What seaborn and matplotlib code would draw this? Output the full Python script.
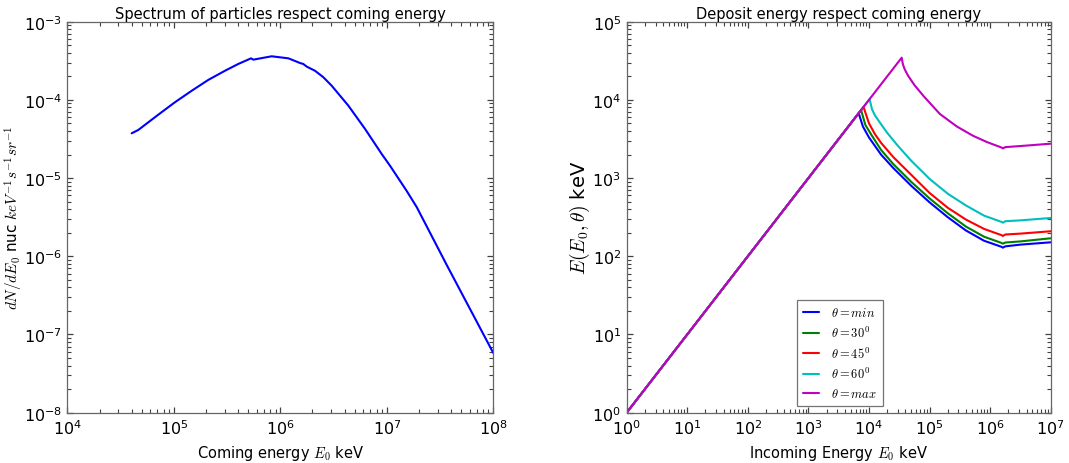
import matplotlib
matplotlib.use("Agg")
import matplotlib.pyplot as plt
import seaborn as sns
import pandas as pd
from matplotlib.ticker import LogLocator, FixedLocator, NullFormatter

# ---------------- data ----------------
# Left panel: spectrum
spec_E0 = [4.01e4, 4.62e4, 7.13e4, 1.02e5, 1.47e5, 2.10e5, 3.02e5, 4.02e5, 5.30e5, 5.56e5,
           8.28e5, 1.19e6, 1.53e6, 1.64e6, 1.77e6, 2.11e6, 2.53e6, 3.03e6, 4.35e6, 6.24e6,
           8.95e6, 1.07e7, 1.53e7, 1.91e7, 3.65e7, 1.0e8]
spec_flux = [3.74e-5, 4.12e-5, 6.47e-5, 9.31e-5, 1.31e-4, 1.80e-4, 2.36e-4, 2.88e-4, 3.40e-4, 3.27e-4,
             3.61e-4, 3.40e-4, 2.96e-4, 2.88e-4, 2.66e-4, 2.36e-4, 1.95e-4, 1.52e-4, 8.43e-5, 4.25e-5,
             2.03e-5, 1.44e-5, 6.90e-6, 4.24e-6, 7.74e-7, 5.79e-8]

# Right panel: deposited energy for several angles
min_E0 = [1, 6.76e3, 7.94e3, 1.0e4, 1.585e4, 2.512e4, 5.012e4, 1.0e5, 2.0e5, 3.98e5,
          7.94e5, 1.55e6, 1.62e6, 1.78e6, 3.16e6, 1.0e7]
min_E = [1, 6.76e3, 4.57e3, 3.31e3, 1.995e3, 1.349e3, 794, 490, 316, 214,
         158, 132, 129, 134, 141, 151]

d30_E0 = [1, 7.41e3, 8.71e3, 1.122e4, 1.585e4, 2.512e4, 5.012e4, 1.0e5, 2.0e5, 3.98e5,
          7.94e5, 1.55e6, 1.62e6, 1.78e6, 3.16e6, 1.0e7]
d30_E = [1, 7.41e3, 4.79e3, 3.47e3, 2.29e3, 1.514e3, 891, 550, 355, 240,
         178, 148, 145, 150, 155, 170]

d45_E0 = [1, 8.13e3, 1.0e4, 1.259e4, 1.585e4, 2.512e4, 5.012e4, 1.0e5, 2.0e5, 3.98e5,
          7.94e5, 1.55e6, 1.62e6, 1.78e6, 3.16e6, 1.0e7]
d45_E = [1, 8.13e3, 5.01e3, 3.63e3, 2.82e3, 1.862e3, 1.096e3, 646, 417, 295,
         224, 186, 182, 190, 195, 209]

d60_E0 = [1, 1.023e4, 1.122e4, 1.259e4, 1.514e4, 1.995e4, 3.02e4, 5.012e4, 1.0e5, 2.0e5,
          3.98e5, 7.94e5, 1.55e6, 1.62e6, 1.78e6, 3.16e6, 1.0e7]
d60_E = [1, 1.023e4, 7.59e3, 6.31e3, 5.13e3, 3.80e3, 2.57e3, 1.66e3, 977, 631,
         447, 331, 275, 269, 281, 288, 309]

max_E0 = [1, 3.467e4, 3.63e4, 3.9e4, 4.4e4, 5.623e4, 7.943e4, 1.479e5, 2.818e5, 5.248e5,
          8.913e5, 1.55e6, 1.62e6, 1.78e6, 3.16e6, 1.0e7]
max_E = [1, 3.467e4, 2.85e4, 2.45e4, 2.05e4, 1.549e4, 1.122e4, 6.607e3, 4.571e3, 3.467e3,
         2.884e3, 2.455e3, 2.40e3, 2.49e3, 2.570e3, 2.754e3]

series_labels = [r'$\theta=min$', r'$\theta=30^0$', r'$\theta=45^0$', r'$\theta=60^0$', r'$\theta=max$']
series_colors = ['#0000ff', '#008000', '#ff0000', '#00bfbf', '#bf00bf']
series_x = [min_E0, d30_E0, d45_E0, d60_E0, max_E0]
series_y = [min_E, d30_E, d45_E, d60_E, max_E]

# ---------------- style ----------------
sns.set_theme(style="ticks")
plt.rcParams['font.family'] = ['DejaVu Sans']
plt.rcParams['mathtext.fontset'] = 'cm'
plt.rcParams['axes.edgecolor'] = '0.4'
plt.rcParams['axes.linewidth'] = 0.9
plt.rcParams['text.color'] = 'black'
plt.rcParams['axes.labelcolor'] = 'black'

fig = plt.figure(figsize=(10.69, 4.64), dpi=100)
ax1 = fig.add_axes([0.0631, 0.1084, 0.3984, 0.8427])
ax2 = fig.add_axes([0.5862, 0.1084, 0.3967, 0.8427])


def minor_positions(lo, hi):
    return [m * 10.0 ** k for k in range(lo, hi) for m in range(2, 10)]


def style_axis(ax, xdec, ydec):
    ax.set_xscale('log')
    ax.set_yscale('log')
    for s in ax.spines.values():
        s.set_visible(True)
    ax.xaxis.set_major_locator(LogLocator(base=10, numticks=20))
    ax.yaxis.set_major_locator(LogLocator(base=10, numticks=20))
    ax.xaxis.set_minor_locator(FixedLocator(minor_positions(*xdec)))
    ax.yaxis.set_minor_locator(FixedLocator(minor_positions(*ydec)))
    ax.xaxis.set_minor_formatter(NullFormatter())
    ax.yaxis.set_minor_formatter(NullFormatter())
    ax.tick_params(which='both', direction='in', top=True, right=True,
                   bottom=True, left=True, colors='0.25', labelcolor='black')
    ax.tick_params(which='major', length=4, width=0.9, pad=4, labelsize=11.5)
    ax.tick_params(which='minor', length=2.8, width=0.8)
    ax.set_facecolor('white')


# ---------------- left panel ----------------
df_spec = pd.DataFrame({'E0': spec_E0, 'flux': spec_flux})
sns.lineplot(data=df_spec, x='E0', y='flux', ax=ax1, color='#0000ff',
             linewidth=1.5, estimator=None, sort=False)
style_axis(ax1, (4, 8), (-8, -3))
ax1.set_xlim(1e4, 1e8)
ax1.set_ylim(1e-8, 1e-3)
ax1.set_title('Spectrum of particles respect coming energy', fontsize=10.5, pad=3)
ax1.set_xlabel(r'Coming energy $E_0$ keV', fontsize=10.5, labelpad=4)
ax1.set_ylabel(r'$dN/dE_0$ nuc $keV^{-1}s^{-1}sr^{-1}$', fontsize=11)
ax1.yaxis.set_label_coords(-0.1, 0.5)

# ---------------- right panel ----------------
for xs, ys, lab, col in zip(series_x, series_y, series_labels, series_colors):
    d = pd.DataFrame({'E0': xs, 'E': ys})
    sns.lineplot(data=d, x='E0', y='E', ax=ax2, color=col, linewidth=1.5,
                 label=lab, estimator=None, sort=False)
style_axis(ax2, (0, 7), (0, 5))
ax2.set_xlim(1e0, 1e7)
ax2.set_ylim(1e0, 1e5)
ax2.set_title('Deposit energy respect coming energy', fontsize=10.5, pad=3)
ax2.set_xlabel(r'Incoming Energy $E_0$ keV', fontsize=10.5, labelpad=4)
ax2.set_ylabel(r'$E(E_0,\theta)$ keV', fontsize=14)
ax2.yaxis.set_label_coords(-0.082, 0.5)
leg = ax2.legend(loc='lower center', bbox_to_anchor=(0.503, 0.01), fontsize=9,
                 frameon=True, fancybox=False, framealpha=1, edgecolor='0.45',
                 handlelength=1.3, handletextpad=0.9, labelspacing=0.45,
                 borderpad=0.5, borderaxespad=0.2)
leg.get_frame().set_linewidth(0.9)

fig.savefig('out.png', dpi=100, facecolor='white')
